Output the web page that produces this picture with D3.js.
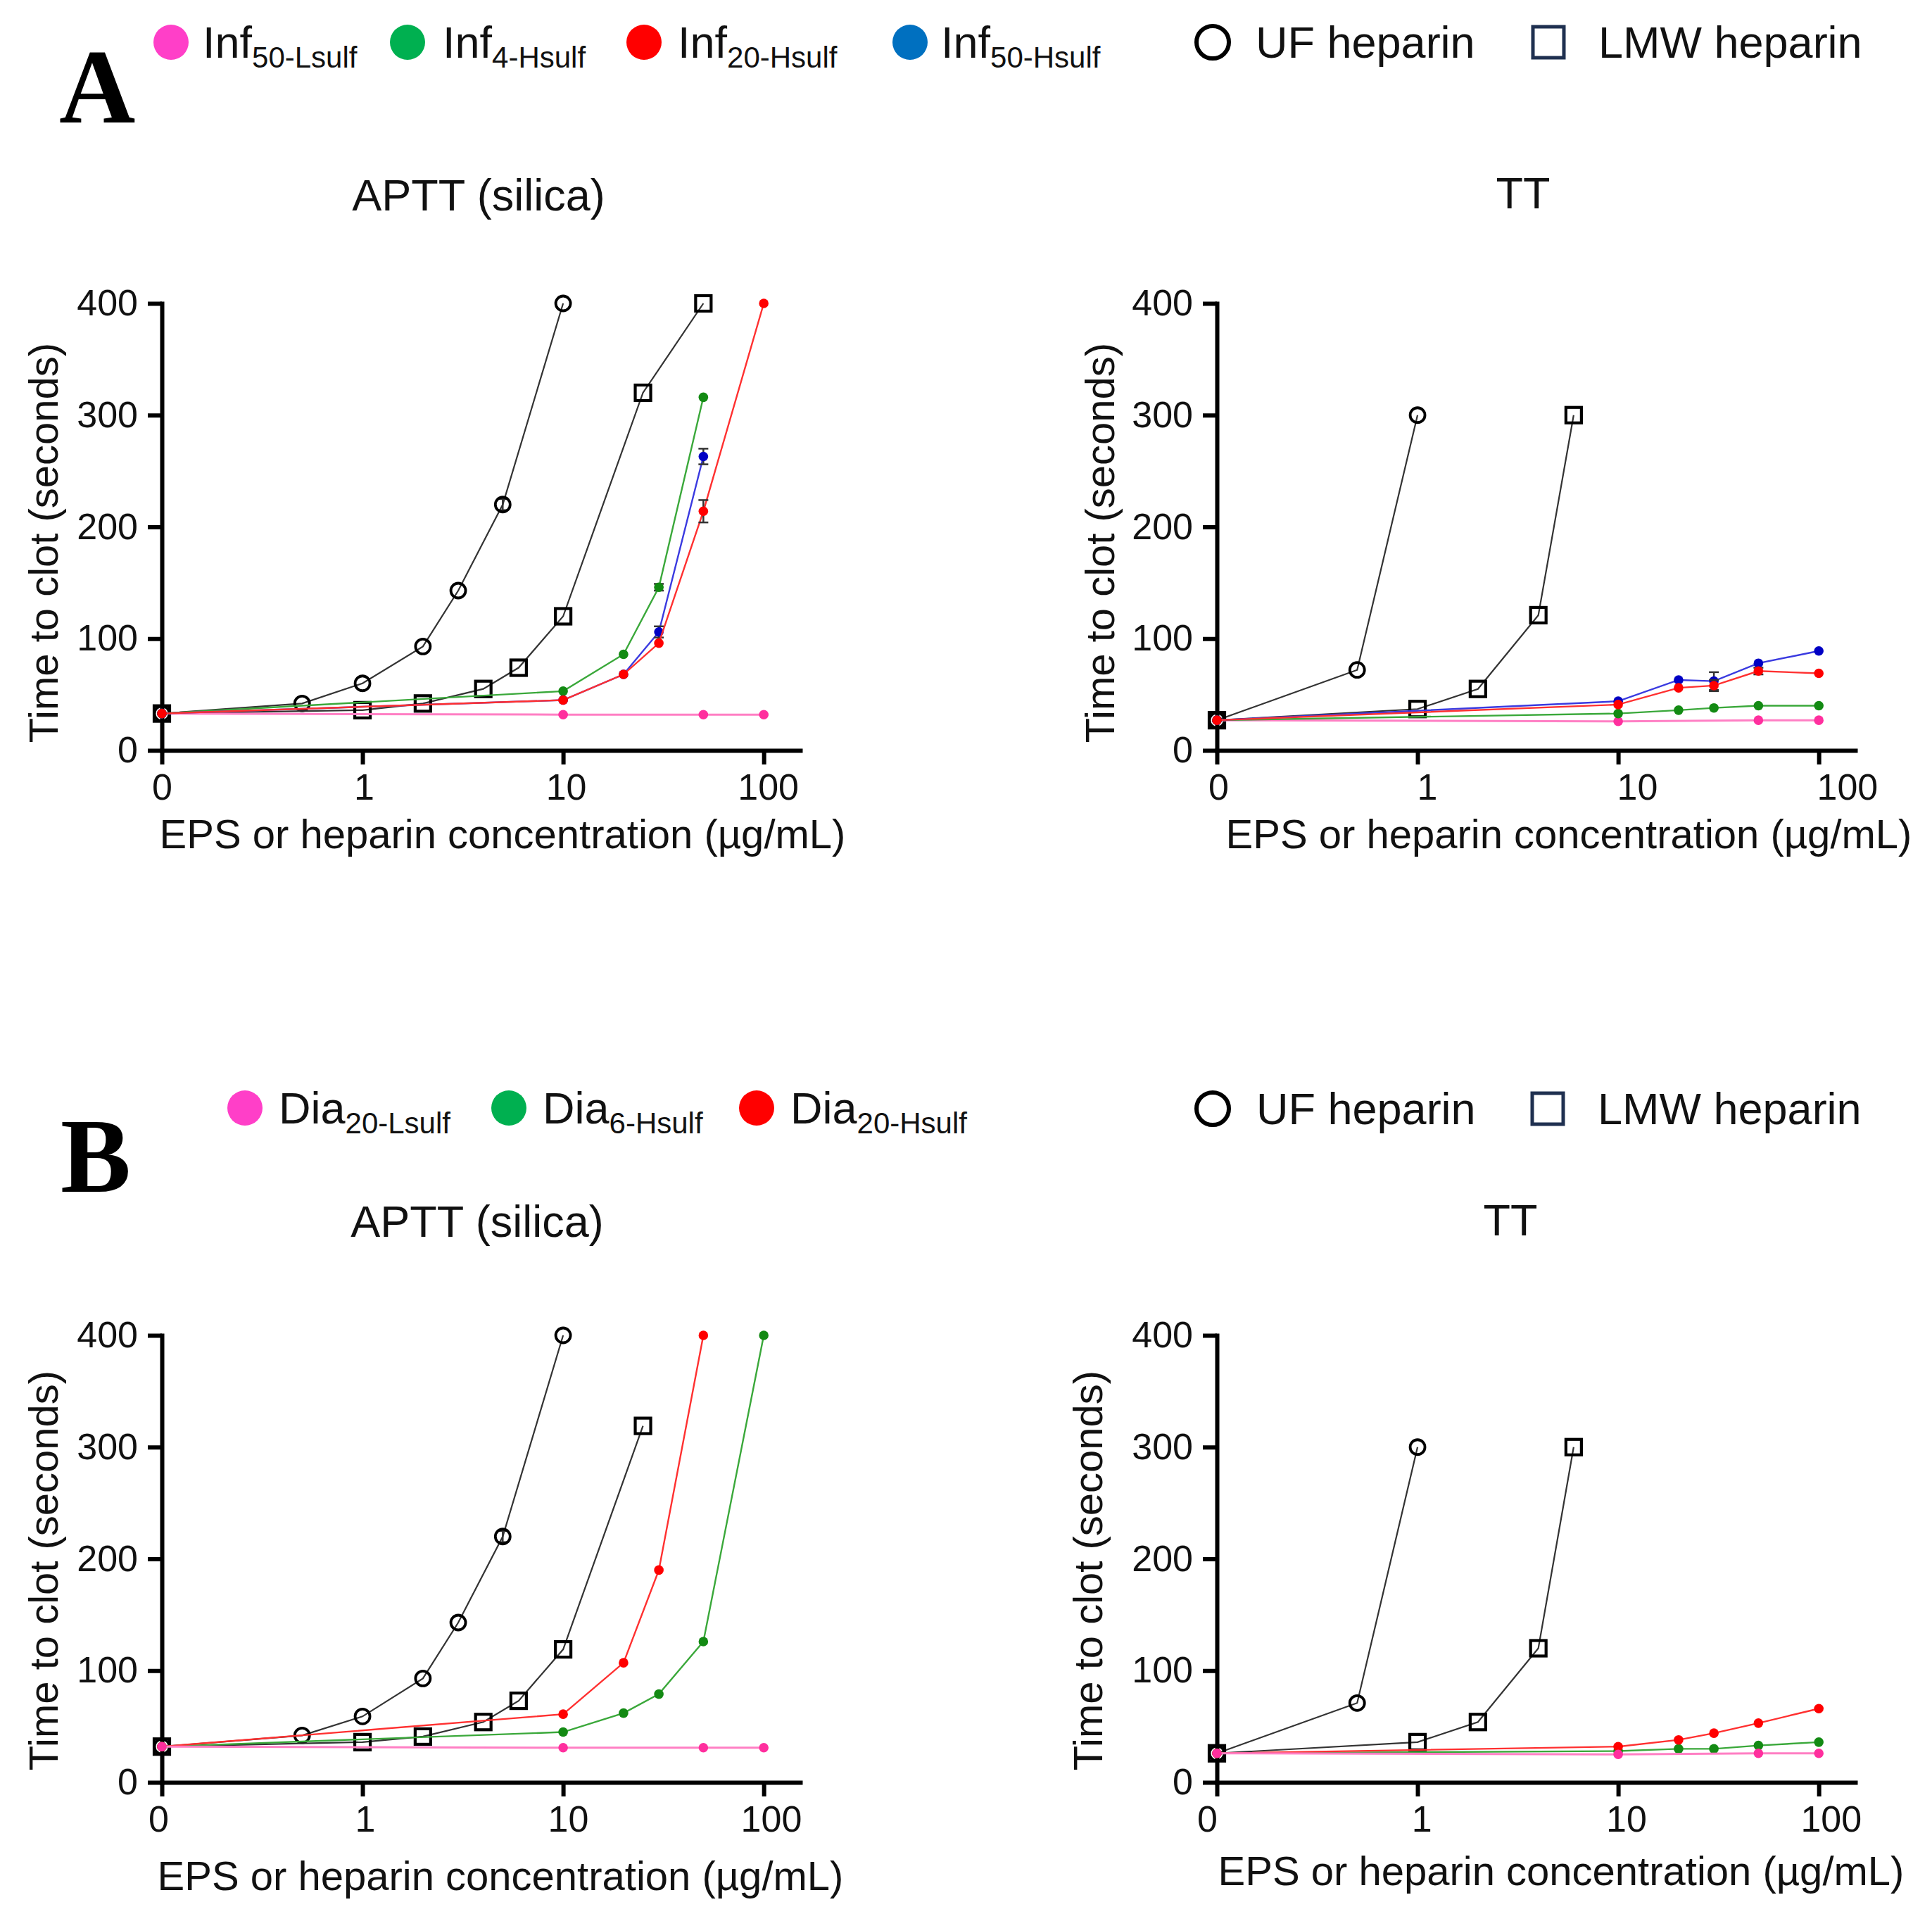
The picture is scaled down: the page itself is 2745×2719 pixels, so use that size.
<!DOCTYPE html>
<html><head><meta charset="utf-8">
<script src="https://cdn.jsdelivr.net/npm/d3@7/dist/d3.min.js"></script>
<style>body{margin:0;background:#fff}</style>
</head><body>
<svg id="c" width="2745" height="2719" xmlns="http://www.w3.org/2000/svg"></svg>
<script>
// ---------------- DATA ----------------
const xTickValues = [0, 1, 10, 100];
const xTickLabels = ["0", "1", "10", "100"];
const yTickValues = [0, 100, 200, 300, 400];
const yTickLabels = ["0", "100", "200", "300", "400"];

// Panel A – APTT (silica)
const aApttUFConc  = [0, 0.5, 1, 2, 3, 5, 10];
const aApttUFVal   = [33, 42, 60, 93, 143, 220, 400];
const aApttUFErr   = [0, 0, 0, 0, 0, 5, 0];
const aApttLMWConc = [0, 1, 2, 4, 6, 10, 25, 50];
const aApttLMWVal  = [33, 36, 42, 55, 74, 120, 320, 400];
const aApttPinkConc = [0, 10, 50, 100];
const aApttPinkVal  = [33, 32, 32, 32];
const aApttGreenConc = [0, 10, 20, 30, 50];
const aApttGreenVal  = [33, 53, 86, 146, 316];
const aApttGreenErr  = [0, 0, 0, 3, 0];
const aApttBlueConc = [0, 10, 20, 30, 50];
const aApttBlueVal  = [33, 45, 68, 106, 263];
const aApttBlueErr  = [0, 0, 0, 5, 7];
const aApttRedConc = [0, 10, 20, 30, 50, 100];
const aApttRedVal  = [33, 45, 68, 96, 214, 400];
const aApttRedErr  = [0, 0, 0, 0, 10, 0];

// Panel A – TT
const aTtUFConc  = [0, 0.5, 1];
const aTtUFVal   = [27, 72, 300];
const aTtLMWConc = [0, 1, 2, 4, 6];
const aTtLMWVal  = [27, 37, 55, 121, 300];
const aTtPinkConc = [0, 10, 50, 100];
const aTtPinkVal  = [27, 26, 27, 27];
const aTtGreenConc = [0, 10, 20, 30, 50, 100];
const aTtGreenVal  = [27, 33, 36, 38, 40, 40];
const aTtBlueConc = [0, 10, 20, 30, 50, 100];
const aTtBlueVal  = [27, 44, 63, 62, 78, 89];
const aTtBlueErr  = [0, 0, 0, 8, 0, 0];
const aTtRedConc = [0, 10, 20, 30, 50, 100];
const aTtRedVal  = [27, 41, 56, 58, 71, 69];
const aTtRedErr  = [0, 0, 0, 5, 3, 0];

// Panel B – APTT (silica)
const bApttUFConc  = [0, 0.5, 1, 2, 3, 5, 10];
const bApttUFVal   = [32, 42, 59, 93, 143, 220, 400];
const bApttUFErr   = [0, 0, 0, 0, 0, 5, 0];
const bApttLMWConc = [0, 1, 2, 4, 6, 10, 25];
const bApttLMWVal  = [32, 36, 41, 54, 73, 119, 319];
const bApttPinkConc = [0, 10, 50, 100];
const bApttPinkVal  = [32, 31, 31, 31];
const bApttGreenConc = [0, 10, 20, 30, 50, 100];
const bApttGreenVal  = [32, 45, 62, 79, 126, 400];
const bApttRedConc = [0, 10, 20, 30, 50];
const bApttRedVal  = [32, 61, 107, 190, 400];

// Panel B – TT
const bTtUFConc  = [0, 0.5, 1];
const bTtUFVal   = [26, 71, 300];
const bTtLMWConc = [0, 1, 2, 4, 6];
const bTtLMWVal  = [26, 36, 54, 120, 300];
const bTtPinkConc = [0, 10, 50, 100];
const bTtPinkVal  = [26, 25, 26, 26];
const bTtGreenConc = [0, 10, 20, 30, 50, 100];
const bTtGreenVal  = [26, 28, 30, 30, 33, 36];
const bTtRedConc = [0, 10, 20, 30, 50, 100];
const bTtRedVal  = [26, 32, 38, 44, 53, 66];

// Legends / texts
const legendANames = [["Inf", "50-Lsulf"], ["Inf", "4-Hsulf"], ["Inf", "20-Hsulf"], ["Inf", "50-Hsulf"]];
const legendBNames = [["Dia", "20-Lsulf"], ["Dia", "6-Hsulf"], ["Dia", "20-Hsulf"]];
const heparinNames = ["UF heparin", "LMW heparin"];
const panelTitles = ["APTT (silica)", "TT"];
const xAxisTitle = "EPS or heparin concentration (µg/mL)";
const yAxisTitle = "Time to clot (seconds)";

// ---------------- STYLE ----------------
const FONT = "'Liberation Sans', Arial, Helvetica, sans-serif";
const STYLE = {
  uf:    {marker: "circle", line: "#333", dot: "#000"},
  lmw:   {marker: "square", line: "#333", dot: "#000"},
  pink:  {marker: "dot", line: "#ff7fc4", dot: "#ff2f9e", lw: 3},
  green: {marker: "dot", line: "#3aa83a", dot: "#138a13"},
  blue:  {marker: "dot", line: "#3a3ae0", dot: "#0000c4"},
  red:   {marker: "dot", line: "#ff3030", dot: "#ff0000"}
};
const LEGEND_COLORS_A = ["#ff3fc8", "#00b050", "#ff0000", "#0070c0"];
const LEGEND_COLORS_B = ["#ff3fc8", "#00b050", "#ff0000"];

function ser(key, conc, val, err) {
  return {key, pts: conc.map((c, i) => ({c, v: val[i], e: err ? err[i] : 0}))};
}

const panels = [
  {x0: 230, yTop: 431, yBot: 1066, title: panelTitles[0], tx: 680, ty: 299,
   xl: [714, 1205], yl: [62, 771], lk: 1.007, l0: 0,
   series: [ser("uf", aApttUFConc, aApttUFVal, aApttUFErr), ser("lmw", aApttLMWConc, aApttLMWVal),
            ser("pink", aApttPinkConc, aApttPinkVal), ser("green", aApttGreenConc, aApttGreenVal, aApttGreenErr),
            ser("blue", aApttBlueConc, aApttBlueVal, aApttBlueErr), ser("red", aApttRedConc, aApttRedVal, aApttRedErr)]},
  {x0: 1729, yTop: 431, yBot: 1066, title: panelTitles[1], tx: 2164, ty: 296,
   xl: [2229, 1205], yl: [1563, 771], lk: 1.047, l0: 2,
   series: [ser("uf", aTtUFConc, aTtUFVal), ser("lmw", aTtLMWConc, aTtLMWVal),
            ser("pink", aTtPinkConc, aTtPinkVal), ser("green", aTtGreenConc, aTtGreenVal),
            ser("blue", aTtBlueConc, aTtBlueVal, aTtBlueErr), ser("red", aTtRedConc, aTtRedVal, aTtRedErr)]},
  {x0: 230, yTop: 1897, yBot: 2532, title: panelTitles[0], tx: 678, ty: 1757,
   xl: [711, 2685], yl: [62, 2231], lk: 1.012, l0: -5,
   series: [ser("uf", bApttUFConc, bApttUFVal, bApttUFErr), ser("lmw", bApttLMWConc, bApttLMWVal),
            ser("green", bApttGreenConc, bApttGreenVal), ser("red", bApttRedConc, bApttRedVal),
            ser("pink", bApttPinkConc, bApttPinkVal)]},
  {x0: 1729, yTop: 1897, yBot: 2532, title: panelTitles[1], tx: 2146, ty: 1755,
   xl: [2218, 2678], yl: [1546, 2231], lk: 1.02, l0: -14,
   series: [ser("uf", bTtUFConc, bTtUFVal), ser("lmw", bTtLMWConc, bTtLMWVal),
            ser("green", bTtGreenConc, bTtGreenVal), ser("red", bTtRedConc, bTtRedVal),
            ser("pink", bTtPinkConc, bTtPinkVal)]}
];

const svg = d3.select("#c");
svg.append("rect").attr("width", 2745).attr("height", 2719).attr("fill", "#fff");

const ZERO_AT = 0.1; // "0" is drawn one decade below 1 on the log axis

panels.forEach(p => {
  const x = d3.scaleLog().domain([ZERO_AT, 152]).range([p.x0, p.x0 + 907]);
  const y = d3.scaleLinear().domain([0, 400]).range([p.yBot, p.yTop]);
  const xp = c => x(c === 0 ? ZERO_AT : c);
  const g = svg.append("g");

  // title
  g.append("text").attr("x", p.tx).attr("y", p.ty).attr("text-anchor", "middle")
    .attr("font-family", FONT).attr("font-size", 63).attr("fill", "#111").text(p.title);

  // axes
  const xAxis = d3.axisBottom(x).tickValues(xTickValues.map(v => v === 0 ? ZERO_AT : v))
    .tickFormat((d, i) => xTickLabels[i]).tickSize(20).tickPadding(13).tickSizeOuter(0);
  const yAxis = d3.axisLeft(y).tickValues(yTickValues)
    .tickFormat((d, i) => yTickLabels[i]).tickSize(20).tickPadding(14).tickSizeOuter(0);
  const gx = g.append("g").attr("transform", `translate(0,${p.yBot})`).call(xAxis);
  const gy = g.append("g").attr("transform", `translate(${p.x0},0)`).call(yAxis);
  [gx, gy].forEach(a => {
    a.select(".domain").attr("stroke", "#000").attr("stroke-width", 6).attr("stroke-linecap", "square");
    a.selectAll(".tick line").attr("stroke", "#000").attr("stroke-width", 6);
    a.selectAll(".tick text").attr("font-family", FONT).attr("font-size", 52).attr("fill", "#111");
  });
  // slight horizontal spread of x tick labels as in the source figure
  gx.selectAll(".tick text").attr("dx", d => (x(d) - p.x0) * (p.lk - 1) + (d === ZERO_AT ? p.l0 : 0));

  // axis titles
  g.append("text").attr("x", p.xl[0]).attr("y", p.xl[1]).attr("text-anchor", "middle")
    .attr("font-family", FONT).attr("font-size", 58).attr("fill", "#111").text(xAxisTitle);
  g.append("text").attr("transform", `translate(${p.yl[0]},${p.yl[1]}) rotate(-90)`)
    .attr("text-anchor", "middle").attr("dy", "0.35em")
    .attr("font-family", FONT).attr("font-size", 58).attr("fill", "#111").text(yAxisTitle);

  const line = d3.line().x(d => xp(d.c)).y(d => y(d.v));

  p.series.forEach(s => {
    const st = STYLE[s.key];
    const sg = g.append("g");
    sg.append("path").attr("d", line(s.pts)).attr("fill", "none")
      .attr("stroke", st.line).attr("stroke-width", st.lw || (st.marker === "dot" ? 2.4 : 2.2));
    s.pts.filter(d => d.e > 0).forEach(d => {
      const cx = xp(d.c);
      const eg = sg.append("g").attr("stroke", "#333").attr("stroke-width", 2.5);
      eg.append("line").attr("x1", cx).attr("x2", cx).attr("y1", y(d.v - d.e)).attr("y2", y(d.v + d.e));
      [d.v - d.e, d.v + d.e].forEach(v => eg.append("line").attr("x1", cx - 7).attr("x2", cx + 7).attr("y1", y(v)).attr("y2", y(v)));
    });
    s.pts.forEach(d => {
      const cx = xp(d.c), cy = y(d.v);
      if (st.marker === "circle") {
        sg.append("circle").attr("cx", cx).attr("cy", cy).attr("r", 10.5)
          .attr("fill", "none").attr("stroke", "#000").attr("stroke-width", 3.8);
      } else if (st.marker === "square") {
        sg.append("rect").attr("x", cx - 11).attr("y", cy - 11).attr("width", 22).attr("height", 22)
          .attr("fill", "none").attr("stroke", "#000").attr("stroke-width", 4.2);
      } else {
        sg.append("circle").attr("cx", cx).attr("cy", cy).attr("r", 6.8).attr("fill", st.dot);
      }
    });
  });
});

// ---------------- LEGENDS ----------------
function epsLegend(names, colors, cxs, txs, cy) {
  names.forEach((n, i) => {
    svg.append("circle").attr("cx", cxs[i]).attr("cy", cy).attr("r", 25).attr("fill", colors[i]);
    const t = svg.append("text").attr("x", txs[i]).attr("y", cy + 22)
      .attr("font-family", FONT).attr("font-size", 63).attr("fill", "#111");
    t.append("tspan").text(n[0]);
    t.append("tspan").attr("font-size", 42).attr("dy", 14).text(n[1]);
  });
}
function heparinLegend(cy, cCirc, tCirc, cSq, tSq) {
  svg.append("circle").attr("cx", cCirc).attr("cy", cy).attr("r", 23)
    .attr("fill", "none").attr("stroke", "#000").attr("stroke-width", 6);
  svg.append("text").attr("x", tCirc).attr("y", cy + 22).attr("font-family", FONT)
    .attr("font-size", 63).attr("fill", "#111").text(heparinNames[0]);
  svg.append("rect").attr("x", cSq - 22).attr("y", cy - 22).attr("width", 44).attr("height", 44)
    .attr("fill", "none").attr("stroke", "#1f3050").attr("stroke-width", 5);
  svg.append("text").attr("x", tSq).attr("y", cy + 22).attr("font-family", FONT)
    .attr("font-size", 63).attr("fill", "#111").text(heparinNames[1]);
}
epsLegend(legendANames, LEGEND_COLORS_A, [243, 579, 915, 1293], [288, 629, 963, 1337], 60);
heparinLegend(60, 1723, 1784, 2200, 2271);
epsLegend(legendBNames, LEGEND_COLORS_B, [348, 723, 1075], [396, 771, 1123], 1574);
heparinLegend(1575, 1723, 1785, 2199, 2270);

// panel letters
svg.append("text").attr("x", 84).attr("y", 174).attr("font-family", "'Liberation Serif', 'Times New Roman', serif")
  .attr("font-weight", "bold").attr("font-size", 150).attr("fill", "#000").text("A");
svg.append("text").attr("x", 86).attr("y", 1693).attr("font-family", "'Liberation Serif', 'Times New Roman', serif")
  .attr("font-weight", "bold").attr("font-size", 150).attr("fill", "#000").text("B");
</script>
</body></html>
